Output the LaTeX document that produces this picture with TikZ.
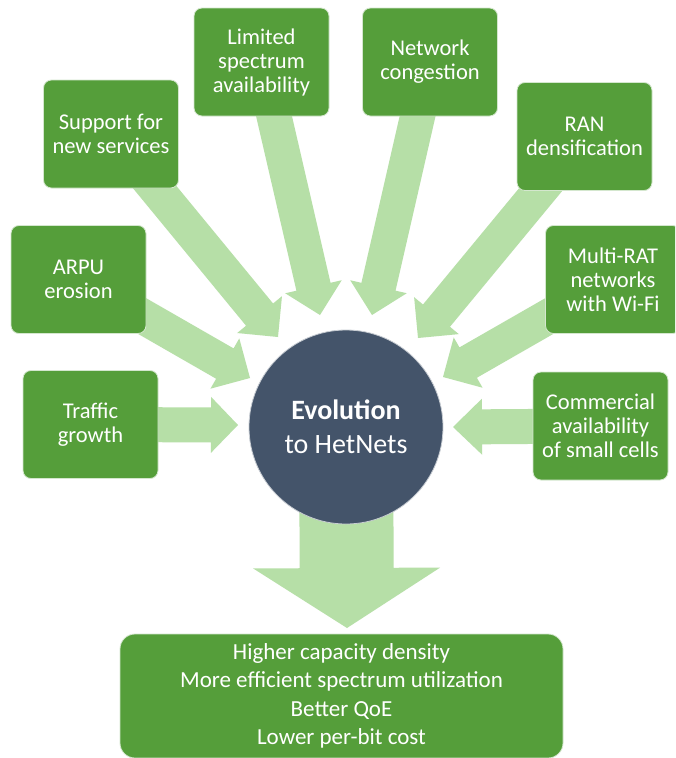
\documentclass[tikz,border=0pt]{standalone}
\usepackage{fontspec}
\setmainfont{Carlito}
\usetikzlibrary{calc}
\definecolor{boxgreen}{HTML}{559E3A}
\definecolor{arrowgreen}{HTML}{B6DFA7}
\definecolor{hubblue}{HTML}{44546A}
\tikzset{
  factor/.style={fill=boxgreen, draw=white!75!boxgreen, line width=0.8pt,
    rounded corners=8pt, minimum width=135pt, minimum height=108pt,
    inner sep=0pt, text=white, align=center,
    font=\fontsize{22.5}{24}\selectfont},
  hub/.style={circle, fill=hubblue, draw=white!70!hubblue, line width=0.8pt,
    minimum size=194pt, inner sep=0pt, text=white, align=center,
    font=\fontsize{28}{34}\selectfont},
  result/.style={fill=boxgreen, draw=white!75!boxgreen, line width=0.8pt,
    rounded corners=15pt, minimum width=443pt, minimum height=124pt,
    inner sep=0pt, text=white, align=center,
    font=\fontsize{23}{28.5}\selectfont},
  blockfill/.style={fill=arrowgreen}
}
% start, tip, shaft half width, head half width, head length
\newcommand{\blockarrow}[5]{%
  \path ($(#2)!#5!(#1)$) coordinate (hb);
  \fill[blockfill] ($(#1)!#3!90:(#2)$) -- ($(hb)!#3!-90:(#1)$)
    -- ($(hb)!#4!-90:(#1)$) -- (#2) -- ($(hb)!#4!90:(#1)$)
    -- ($(hb)!#3!90:(#1)$) -- ($(#1)!#3!-90:(#2)$) -- cycle;}
\begin{document}
\begin{tikzpicture}[x=1pt,y=-1pt]
\clip (0,0) rectangle (675,758);
\fill[white] (0,0) rectangle (675,758);
% hub and result
\coordinate (hubc) at (346,427);
\node[result] (res) at (341.5,696) {Higher capacity density\\More efficient spectrum utilization\\Better QoE\\Lower per-bit cost};
% factor boxes positions
\coordinate (pLimited) at (261.5,62);
\coordinate (pSupport) at (111,134);
\coordinate (pArpu) at (78.5,279.5);
\coordinate (pTraffic) at (90.5,424.5);
\coordinate (pNetwork) at (430,62);
\coordinate (pRan) at (584.5,136.5);
\coordinate (pMulti) at (613,279.5);
\coordinate (pComm) at (600.5,426);
% arrow tips
\coordinate (tTraffic) at (238,425);
\coordinate (tArpu) at (250,378);
\coordinate (tSupport) at (278,337);
\coordinate (tLimited) at (320,315);
\coordinate (tNetwork) at (372,315);
\coordinate (tRan) at (418,338);
\coordinate (tMulti) at (443,377);
\coordinate (tComm) at (453,427);
\coordinate (tDown) at (347,628);
% arrows (behind boxes)
\blockarrow{pTraffic}{tTraffic}{17.5pt}{28pt}{27pt}
\blockarrow{pArpu}{tArpu}{17.5pt}{29pt}{29pt}
\blockarrow{pSupport}{tSupport}{17.5pt}{29pt}{29pt}
\blockarrow{pLimited}{tLimited}{17.5pt}{29pt}{29pt}
\blockarrow{pNetwork}{tNetwork}{17.5pt}{29pt}{29pt}
\blockarrow{pRan}{tRan}{17.5pt}{29pt}{29pt}
\blockarrow{pMulti}{tMulti}{17.5pt}{29pt}{29pt}
\blockarrow{pComm}{tComm}{17.5pt}{28pt}{29pt}
\blockarrow{hubc}{tDown}{47pt}{93.5pt}{60pt}
% nodes
\node[hub] (hub) at (hubc) {\textbf{Evolution}\\to HetNets};
\node[factor] (limited) at (pLimited) {Limited\\spectrum\\availability};
\node[factor] (support) at (pSupport) {Support for\\new services};
\node[factor] (arpu) at (pArpu) {ARPU\\erosion};
\node[factor] (traffic) at (pTraffic) {Traffic\\growth};
\node[factor] (network) at (pNetwork) {Network\\congestion};
\node[factor] (ran) at (pRan) {RAN\\densification};
\node[factor] (multi) at (pMulti) {Multi-RAT\\networks\\with Wi-Fi};
\node[factor] (comm) at (pComm) {Commercial\\availability\\of small cells};
\end{tikzpicture}
\end{document}
